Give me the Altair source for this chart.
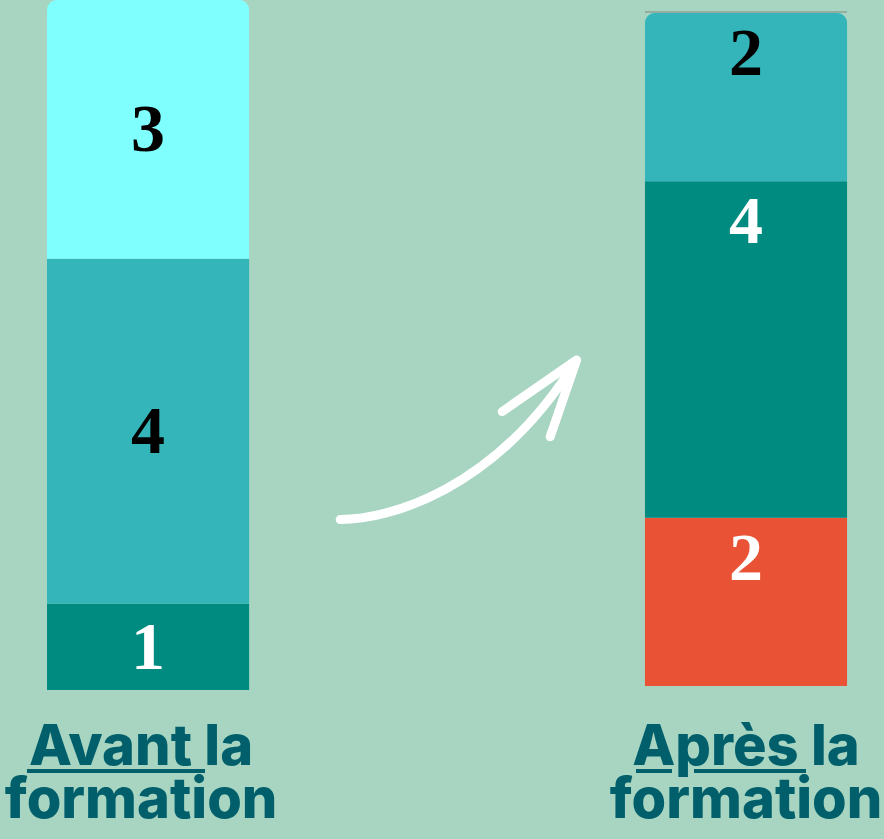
import altair as alt
import pandas as pd

phases = ["Avant", "Après"]
avant_values = [1, 4, 3]          # bottom -> top
apres_values = [2, 4, 2]          # bottom -> top
avant_colors = ["#008B80", "#33B5BA", "#80FFFF"]
apres_colors = ["#E95235", "#008B80", "#33B5BA"]
avant_text_colors = ["#FFFFFF", "#000000", "#000000"]
apres_text_colors = ["#FFFFFF", "#FFFFFF", "#000000"]
line1 = ["Avant la", "Après la"]
line2 = ["formation", "formation"]

BG = "#A7D5C2"
LABEL = "#005F6B"


def build(phase, values, colors, tcolors):
    rows = []
    base = 0
    for i, (v, c, t) in enumerate(zip(values, colors, tcolors)):
        rows.append(dict(phase=phase, value=v, y0=base, y1=base + v,
                         mid=base + v / 2, color=c, tcolor=t,
                         top=(i == len(values) - 1), label=str(v)))
        base += v
    return pd.DataFrame(rows)


df_av = build("Avant", avant_values, avant_colors, avant_text_colors)
df_ap = build("Après", apres_values, apres_colors, apres_text_colors)

xscale = alt.Scale(domain=phases, paddingInner=0.662, paddingOuter=0.0702, align=0.56)
X = alt.X("phase:N", scale=xscale, axis=None)


def bar_group(df, yscale, label_field, dy):
    Y = alt.Y("y0:Q", scale=yscale, axis=None)
    base = alt.Chart(df)
    rest = base.transform_filter("!datum.top").mark_bar().encode(
        x=X, y=Y, y2="y1:Q", color=alt.Color("color:N", scale=None))
    top = base.transform_filter("datum.top").mark_bar(
        cornerRadiusTopLeft=10, cornerRadiusTopRight=10).encode(
        x=X, y=Y, y2="y1:Q", color=alt.Color("color:N", scale=None))
    txt = base.mark_text(font="Liberation Serif", fontWeight="bold", fontSize=68,
                         baseline="middle", dy=dy).encode(
        x=X, y=alt.Y(f"{label_field}:Q", scale=yscale, axis=None),
        text="label:N", color=alt.Color("tcolor:N", scale=None))
    return alt.layer(rest, top, txt)


left = bar_group(df_av, alt.Scale(domain=[0, 8], range=[690, 0], nice=False), "mid", 2)
right = bar_group(df_ap, alt.Scale(domain=[0, 8], range=[686, 13], nice=False), "y1", 42)

labels_df = pd.DataFrame({"phase": phases, "l1": line1, "l2": line2})
label_layers = []
for ph, dx in zip(phases, [-7, 0]):
    b = alt.Chart(labels_df).transform_filter(alt.datum.phase == ph)
    label_layers.append(b.mark_text(font="Inter", fontWeight=800, fontSize=56,
                                    color=LABEL, baseline="alphabetic", dx=dx).encode(
        x=X, y=alt.value(765), text="l1:N"))
    label_layers.append(b.mark_text(font="Inter", fontWeight=800, fontSize=56,
                                    color=LABEL, baseline="alphabetic", dx=dx).encode(
        x=X, y=alt.value(818), text="l2:N"))

dummy = pd.DataFrame({"d": [0]})
underlines = [
    alt.Chart(dummy).mark_rule(color=LABEL, strokeWidth=4).encode(
        x=alt.value(27), x2=alt.value(205), y=alt.value(771)),
    alt.Chart(dummy).mark_rule(color=LABEL, strokeWidth=4).encode(
        x=alt.value(636), x2=alt.value(672), y=alt.value(771)),
    alt.Chart(dummy).mark_rule(color=LABEL, strokeWidth=4).encode(
        x=alt.value(694), x2=alt.value(806), y=alt.value(771)),
]

top_line = alt.Chart(dummy).mark_rule(color="#8E9F95", strokeWidth=1.5).encode(
    x=alt.value(645), x2=alt.value(847), y=alt.value(12))

arrow_path = ("M -0.99 0.68 C -0.6 0.68 0.3 0.45 0.98 -0.65 "
              "M 0.36 -0.22 L 0.98 -0.65 L 0.76 -0.01")
arrow = alt.Chart(dummy).mark_point(
    shape=arrow_path, size=57600, filled=False, stroke="white", strokeWidth=9,
    strokeCap="round", strokeJoin="round", opacity=1).encode(
    x=alt.value(459), y=alt.value(438))

chart = alt.layer(left, right, top_line, arrow, *label_layers, *underlines).resolve_scale(
    y="independent").properties(
    width=884, height=839, padding=0, autosize=alt.AutoSizeParams(type="none"),
    background=BG).configure_view(stroke=None)

chart.save("out.html", embed_options={"renderer": "svg", "actions": False})
